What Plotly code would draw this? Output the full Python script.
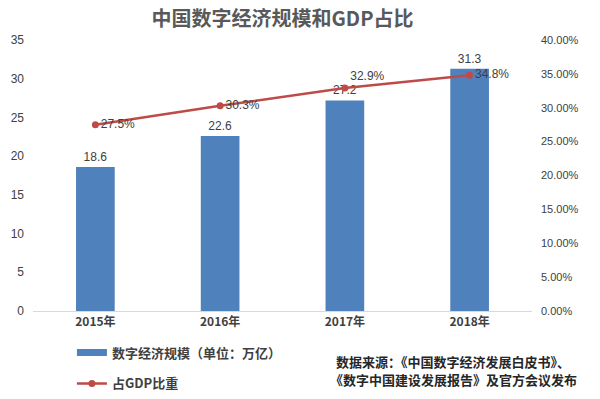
import plotly.graph_objects as go

years = ["2015年", "2016年", "2017年", "2018年"]
scale_vals = [18.6, 22.6, 27.2, 31.3]
share_vals = [0.275, 0.303, 0.329, 0.348]
share_labels = ["27.5%", "30.3%", "32.9%", "34.8%"]
source_lines = ["数据来源：《中国数字经济发展白皮书》、", "《数字中国建设发展报告》及官方会议发布"]

bar_color = "#4F81BD"
line_color = "#BE4B48"
txt = "#404040"
num_font = "Liberation Sans, Arial, sans-serif"
cjk_font = "Noto Sans CJK SC, sans-serif"

fig = go.Figure()
fig.add_trace(go.Bar(
    x=years, y=scale_vals, name="数字经济规模（单位：万亿）",
    marker=dict(color=bar_color, line=dict(width=0)),
    width=0.31,
    text=[f"{v}" for v in scale_vals], textposition="outside",
    textfont=dict(family=num_font, size=12, color=txt),
    cliponaxis=False, showlegend=False,
))
# legend proxy for bars (Excel-like thin swatch)
fig.add_trace(go.Scatter(
    x=[None], y=[None], mode="lines", name="数字经济规模（单位：万亿）",
    line=dict(color=bar_color, width=7), legendgroup="a",
))
fig.add_trace(go.Scatter(
    x=years, y=share_vals, yaxis="y2", name="占GDP比重",
    mode="lines+markers+text",
    line=dict(color=line_color, width=2.5),
    marker=dict(color=line_color, size=7),
    text=share_labels,
    textposition=["middle right", "middle right", "top right", "middle right"],
    textfont=dict(family=num_font, size=12, color=txt),
    cliponaxis=False, legendgroup="b",
))

annotations = []
for line_text, ypos in zip(source_lines, [-0.186, -0.254]):
    annotations.append(dict(
        text=line_text, xref="paper", yref="paper", x=0.842, y=ypos,
        xanchor="center", yanchor="middle", showarrow=False,
        font=dict(family=cjk_font, size=13, color="#262626", weight="bold"),
    ))

fig.update_layout(
    width=600, height=399,
    margin=dict(l=33, r=68, t=40, b=88, autoexpand=False),
    paper_bgcolor="white", plot_bgcolor="white",
    title=dict(text="中国数字经济规模和GDP占比", x=0.5, xref="paper", xanchor="center",
               y=0.953, yanchor="middle",
               font=dict(family=cjk_font, size=20, color="#595959", weight="bold")),
    xaxis=dict(showline=True, linecolor="#D9D9D9", linewidth=1, showgrid=False,
               ticks="", tickfont=dict(family=cjk_font, size=12, color=txt, weight="bold"),
               domain=[0, 1]),
    yaxis=dict(range=[0, 35], dtick=5, showgrid=False, zeroline=False, ticks="",
               tickfont=dict(family=num_font, size=12, color=txt), ticklabelstandoff=8),
    yaxis2=dict(range=[0, 0.40], dtick=0.05, tickformat=".2%", overlaying="y", side="right",
                showgrid=False, zeroline=False, ticks="",
                tickfont=dict(family=num_font, size=11, color=txt), ticklabelstandoff=8),
    legend=dict(x=0.078, y=-0.098, xanchor="left", yanchor="top", orientation="v",
                font=dict(family=cjk_font, size=13, color=txt, weight="bold"),
                itemwidth=30, tracegroupgap=11, bgcolor="rgba(0,0,0,0)"),
    showlegend=True,
    annotations=annotations,
)

fig.write_html("out.html", config={"displayModeBar": False},
               post_script="document.body.style.margin='0';document.body.style.overflow='hidden';")
